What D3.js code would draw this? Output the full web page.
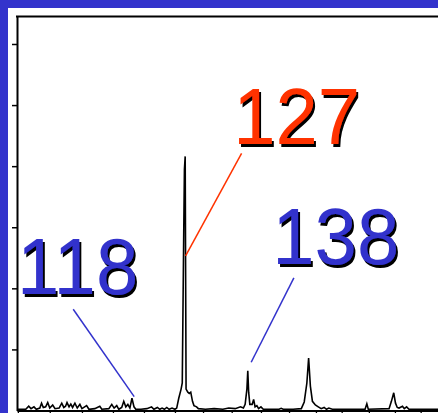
<!DOCTYPE html>
<html><head><meta charset="utf-8">
<script src="https://cdn.jsdelivr.net/npm/d3@7"></script>
<style>html,body{margin:0;padding:0;background:#fff;}svg{display:block;}</style>
</head><body>
<div id="chart"></div>
<script>
// m/z values of the spectrum trace
const mzValues = [98.3,99.8,100.3,100.7,101.2,101.6,102.2,102.5,102.8,103.2,103.55,103.9,104.4,104.8,105.5,105.95,106.3,106.6,106.85,107.2,107.5,107.8,108.2,108.6,109.05,109.4,110.2,110.6,111.6,112.45,112.8,114.0,114.5,114.9,115.35,115.7,116.2,116.55,116.9,117.25,117.6,117.95,118.3,118.6,119.5,
  120.5,121.3,121.7,122.3,122.7,123.1,123.5,123.9,124.3,124.8,125.3,
  125.6,125.95,126.35,126.55,126.8,126.92,127.05,127.2,127.5,127.75,128.0,128.3,128.55,129.0,129.3,
  130.5,132.0,133.5,134.5,135.6,136.5,137.0,137.3,137.6,137.75,137.9,138.1,138.5,138.75,139.0,139.3,139.6,140.0,140.4,141.5,143.1,143.46,143.8,145.5,
  146.9,147.4,147.85,148.15,148.45,148.8,149.3,149.8,150.3,150.8,151.2,151.6,152.2,157.8,158.1,158.35,
  161.9,162.3,162.7,163.0,163.3,163.6,164.2,164.5,164.9,165.3,171];
// relative intensity
const intensityValues = [0.2,0.2,0.7,0.3,0.6,0.2,0.4,1.2,0.5,0.6,1.3,0.4,0.9,0.3,0.4,1.2,0.5,0.7,1.3,0.6,1.05,0.5,1.2,0.4,1.0,0.3,0.8,0.2,0.3,0.7,0.2,0.3,1.0,0.4,0.8,0.2,0.5,1.5,0.6,1.0,0.4,2.0,0.6,0.2,0.2,
  0.3,0.6,0.2,0.5,0.2,0.4,0.2,0.5,0.2,0.4,0.2,
  0.4,2.0,3.5,4.5,29.0,39.5,41.6,3.5,3.0,2.8,3.0,1.5,0.8,0.6,0.3,
  0.2,0.3,0.2,0.4,0.3,0.6,0.4,1.0,3.5,6.5,3.0,1.0,1.0,1.8,0.6,0.8,0.3,0.6,0.2,0.2,0.2,0.35,0.2,0.2,
  0.3,1.4,4.5,8.6,4.0,1.5,0.9,0.6,0.3,0.5,0.2,0.4,0.2,0.2,1.1,0.2,
  0.3,1.5,2.9,1.2,0.5,0.4,0.7,0.3,0.6,0.2,0.2];
const xTickValues = [98.45,103.9,109.4,114.7,120.0,125.3,130.1,135.0,140.0,144.8,149.4,153.8,158.45,162.9,167.3];
const yTickValues = [10,20,30,40,50,60];
// annotations: label text, colour, text anchor (mz, intensity), leader from/to
const labelTexts = ["118","127","138"];
const labelColors = ["#3333cc","#ff3300","#3333cc"];
const labelMz = [98.3,135.25,141.95];
const labelInt = [19.07,43.63,23.98];
const leaderFromMz = [107.91,136.69,145.63];
const leaderFromInt = [16.57,42.1,21.7];
const leaderToMz = [118.33,127.12,138.33];
const leaderToInt = [2.26,25.3,7.9];

const W = 438, H = 413;
const svg = d3.select("#chart").append("svg").attr("width", W).attr("height", H);
const defs = svg.append("defs");
const f = defs.append("filter").attr("id", "shadow").attr("x", "-10%").attr("y", "-10%").attr("width", "130%").attr("height", "130%");
f.append("feOffset").attr("in", "SourceAlpha").attr("dx", 2.5).attr("dy", 2.5).attr("result", "off");
f.append("feFlood").attr("flood-color", "#000").attr("result", "blk");
f.append("feComposite").attr("in", "blk").attr("in2", "off").attr("operator", "in").attr("result", "sh");
const fm = f.append("feMerge");
fm.append("feMergeNode").attr("in", "sh");
fm.append("feMergeNode").attr("in", "SourceGraphic");

svg.append("rect").attr("width", W).attr("height", H).attr("fill", "#3333cc");
svg.append("rect").attr("x", 8).attr("y", 8).attr("width", W - 8).attr("height", H - 8).attr("fill", "#fff");

const x = d3.scaleLinear().domain([98.3, 171]).range([17, 17 + (171 - 98.3) * 5.85]);
const y = d3.scaleLinear().domain([0, 64.5]).range([410.5, 16.5]);

const data = mzValues.map((m, i) => ({mz: m, v: intensityValues[i]}));

// frame top line
svg.append("line").attr("x1", 16).attr("x2", W).attr("y1", y(64.5)).attr("y2", y(64.5))
  .attr("stroke", "#000").attr("stroke-width", 2);

// y axis
const yAxis = svg.append("g").attr("transform", `translate(${x(98.3)},0)`)
  .call(d3.axisLeft(y).tickValues(yTickValues).tickSize(5).tickSizeOuter(0).tickFormat(""));
yAxis.select(".domain").attr("stroke-width", 2);
yAxis.selectAll(".tick line").attr("stroke-width", 1.5);

// x axis
const xAxis = svg.append("g").attr("transform", `translate(0,${y(0)})`)
  .call(d3.axisBottom(x).tickValues(xTickValues).tickSize(4).tickSizeOuter(0).tickFormat(""));
xAxis.select(".domain").attr("stroke-width", 1.8);
xAxis.selectAll(".tick line").attr("stroke-width", 1.3);

// spectrum trace
const line = d3.line().x(d => x(d.mz)).y(d => y(d.v));
svg.append("path").datum(data).attr("d", line).attr("fill", "none")
  .attr("stroke", "#000").attr("stroke-width", 1.6).attr("stroke-linejoin", "miter");

// leader lines
labelTexts.forEach((t, i) => {
  svg.append("line")
    .attr("x1", x(leaderFromMz[i])).attr("y1", y(leaderFromInt[i]))
    .attr("x2", x(leaderToMz[i])).attr("y2", y(leaderToInt[i]))
    .attr("stroke", labelColors[i]).attr("stroke-width", 1.5);
});

// labels with drop shadow
labelTexts.forEach((t, i) => {
  svg.append("text")
    .attr("transform", `translate(${x(labelMz[i])},${y(labelInt[i])}) scale(0.95,1)`)
    .attr("fill", labelColors[i]).attr("font-family", "'Liberation Sans', Arial, sans-serif")
    .attr("font-size", 80).attr("filter", "url(#shadow)").text(t);
});
</script>
</body></html>
